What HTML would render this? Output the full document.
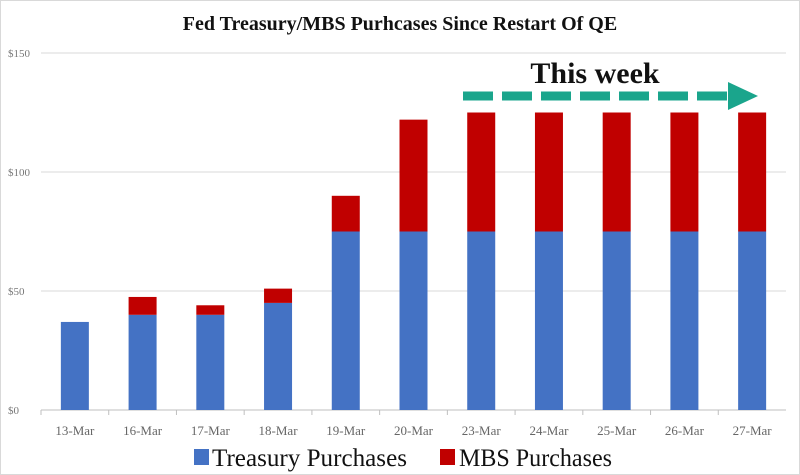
<!DOCTYPE html>
<html><head><meta charset="utf-8"><style>
body{margin:0;background:#fff;}
svg{display:block;font-family:"Liberation Serif",serif;}
</style></head><body>
<svg width="800" height="475" viewBox="0 0 800 475">
<rect x="0.5" y="0.5" width="799" height="474" fill="#fff" stroke="#d9d9d9"/>
<text x="400" y="30" text-anchor="middle" font-size="20" font-weight="bold" fill="#111">Fed Treasury/MBS Purhcases Since Restart Of QE</text>
<g id="grid"></g><g id="bars"></g><g id="xlabels"></g>
<text x="595" y="83" text-anchor="middle" font-size="30" font-weight="bold" fill="#111">This week</text>
<line x1="463" y1="96" x2="728" y2="96" stroke="#1aa58c" stroke-width="9" stroke-dasharray="30,9"/>
<polygon points="728,82 758,96 728,110" fill="#1aa58c"/>
<rect x="194" y="449" width="15" height="16" fill="#4472c4"/>
<text x="212" y="466" font-size="25" textLength="195" lengthAdjust="spacingAndGlyphs" fill="#111">Treasury Purchases</text>
<rect x="440" y="449" width="15" height="16" fill="#c00000"/>
<text x="459" y="466" font-size="25" textLength="153" lengthAdjust="spacingAndGlyphs" fill="#111">MBS Purchases</text>
</svg>
<script>
const categories=["13-Mar","16-Mar","17-Mar","18-Mar","19-Mar","20-Mar","23-Mar","24-Mar","25-Mar","26-Mar","27-Mar"];
const treasury=[37,40,40,45,75,75,75,75,75,75,75];
const mbs=[0,7.5,4,6,15,47,50,50,50,50,50];
const yTicks=[0,50,100,150];
const yTickLabels=["$0","$50","$100","$150"];
const NS="http://www.w3.org/2000/svg";
const x0=41,x1=786,yBase=410,yTop=53,yMax=150;
const band=(x1-x0)/categories.length,bw=28;
function y(v){return yBase-(v/yMax)*(yBase-yTop);}
function cx(i){return x0+band*(i+0.5);}
function mk(tag,attrs,parent){const e=document.createElementNS(NS,tag);for(const k in attrs)e.setAttribute(k,attrs[k]);parent.appendChild(e);return e;}
const grid=document.getElementById('grid'),bars=document.getElementById('bars'),xl=document.getElementById('xlabels');
yTicks.forEach((t,i)=>{
 const l=mk('line',{x1:x0,x2:x1,y1:y(t),y2:y(t),stroke:t===0?'#bfbfbf':'#d9d9d9','stroke-width':1},grid);
 
 
 const tx=mk('text',{x:8,y:y(t)+4,'font-size':11,fill:'#777'},grid);
 tx.textContent=yTickLabels[i];
 
 
});
categories.forEach((c,i)=>{
 const tk=mk('line',{x1:x0+band*i,x2:x0+band*i,y1:yBase,y2:yBase+5,stroke:'#bfbfbf'},grid);
 
 
 const r=mk('rect',{x:cx(i)-bw/2,y:y(treasury[i]),width:bw,height:yBase-y(treasury[i]),fill:'#4472c4'},bars);
 
 
 if(mbs[i]>0){
  const m=mk('rect',{x:cx(i)-bw/2,y:y(treasury[i]+mbs[i]),width:bw,height:y(treasury[i])-y(treasury[i]+mbs[i]),fill:'#c00000'},bars);
  
  
 }
 const t=mk('text',{x:cx(i),y:yBase+25,'text-anchor':'middle','font-size':13,fill:'#666'},xl);
 t.textContent=c;
 
 
});
</script>
</body></html>
